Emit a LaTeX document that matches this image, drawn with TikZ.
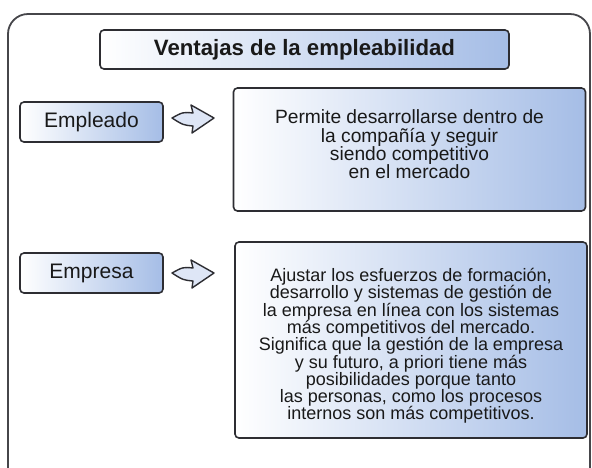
\documentclass[tikz,border=0pt]{standalone}
\usepackage{fontspec}
\setmainfont{Liberation Sans}
\definecolor{frame}{RGB}{70,70,74}
\definecolor{edge}{RGB}{45,45,50}
\definecolor{boxblue}{RGB}{165,189,230}
\definecolor{arrowfill}{RGB}{222,230,246}
\definecolor{ink}{RGB}{25,25,25}
\tikzset{
  gbox/.style={draw=edge, line width=1.6pt, rounded corners=4pt, left color=white, right color=boxblue, inner sep=0pt},
  lbl/.style={gbox, font=\fontsize{21}{22}\selectfont, text=ink},
  bodytext/.style={align=center, text=ink, inner sep=0pt},
  fatarrow/.style={draw=edge, line width=1.4pt, fill=arrowfill, line join=round}
}
\begin{document}
\begin{tikzpicture}[x=1pt,y=-1pt]
\clip (0,0) rectangle (592,467);
\fill[white] (0,0) rectangle (592,467);
% outer frame
\draw[frame, line width=1.8pt, rounded corners=20pt] (8,14) rectangle (590,490);
% title
\node[gbox, minimum width=409pt, minimum height=39pt, font=\bfseries\fontsize{22.2}{24}\selectfont, text=ink] (title) at (304.5,49.5) {Ventajas de la empleabilidad};
% left labels
\node[lbl, minimum width=143pt, minimum height=40pt] (emp) at (91.5,122) {Empleado};
\node[lbl, minimum width=143pt, minimum height=40pt] (ems) at (91.5,273) {Empresa};
% right boxes
\node[gbox, minimum width=352pt, minimum height=123pt] (b1) at (409.5,149.5) {};
\node[gbox, minimum width=352pt, minimum height=196pt] (b2) at (411,340) {};
\node[bodytext, font=\fontsize{19.2}{18.3}\selectfont] (t1) at ([yshift=5pt]b1.center) {Permite desarrollarse dentro de\\la compañía y seguir\\siendo competitivo\\en el mercado};
\node[bodytext, font=\fontsize{18}{17.3}\selectfont] (t2) at ([yshift=-6pt]b2.center) {Ajustar los esfuerzos de formación,\\desarrollo y sistemas de gestión de\\la empresa en línea con los sistemas\\más competitivos del mercado.\\Significa que la gestión de la empresa\\y su futuro, a priori tiene más\\posibilidades porque tanto\\las personas, como los procesos\\internos son más competitivos.};
% arrows
\foreach \y/\nm in {118/a1, 273/a2}{
  \coordinate (\nm) at (193,\y);
  \draw[fatarrow, shift={(\nm)}] (21,0) -- (-2,-13) -- (0,-5) .. controls (-10,-6) .. (-21,0) .. controls (-10,7) .. (0,8) -- (-1,15) -- cycle;
}
\end{tikzpicture}
\end{document}
